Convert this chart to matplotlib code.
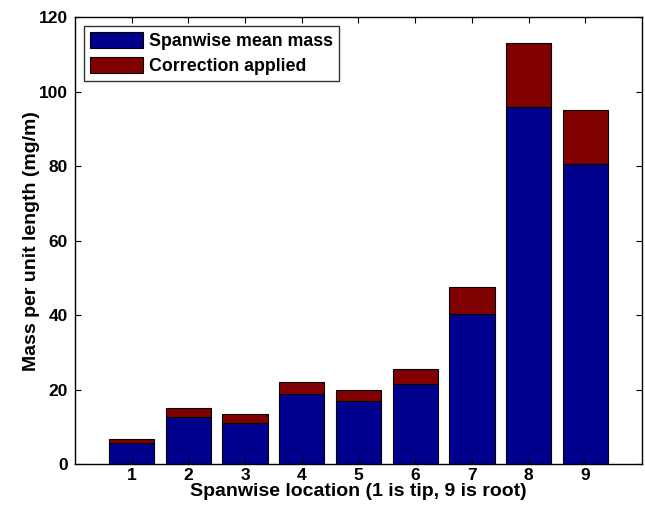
import matplotlib
matplotlib.use("Agg")
import matplotlib.pyplot as plt
import numpy as np

plt.rcParams['font.family'] = ['Liberation Sans', 'DejaVu Sans']
plt.rcParams['font.weight'] = 'bold'

locations = [1, 2, 3, 4, 5, 6, 7, 8, 9]
mean_mass = [5.6, 12.6, 11.1, 18.8, 17.0, 21.5, 40.3, 95.9, 80.6]
total_mass = [6.7, 15.1, 13.3, 22.1, 20.0, 25.6, 47.6, 113.2, 95.1]
correction = [t - m for t, m in zip(total_mass, mean_mass)]

fig = plt.figure(figsize=(6.45, 5.07), dpi=100)
ax = fig.add_axes([0.1163, 0.0848, 0.8790, 0.8811])

ax.bar(locations, mean_mass, width=0.8, color='#00008F', edgecolor='black',
       linewidth=0.8, label='Spanwise mean mass')
ax.bar(locations, correction, width=0.8, bottom=mean_mass, color='#800000',
       edgecolor='black', linewidth=0.8, label='Correction applied')

ax.set_xlim(0, 10)
ax.set_ylim(0, 120)
ax.set_xticks(locations)
ax.set_yticks(np.arange(0, 121, 20))
ax.tick_params(direction='in', top=True, right=True, length=4, labelsize=12.5, width=0.8)
ax.tick_params(axis='x', pad=3)
ax.tick_params(axis='y', pad=5)
for lab in ax.get_xticklabels() + ax.get_yticklabels():
    lab.set_fontweight('bold')
for s in ax.spines.values():
    s.set_linewidth(1.0)

ax.set_xlabel('Spanwise location (1 is tip, 9 is root)', fontsize=14, fontweight='bold', labelpad=0)
ax.set_ylabel('Mass per unit length (mg/m)', fontsize=14, fontweight='bold', labelpad=-1)

leg = ax.legend(loc='upper left', fontsize=12.8, frameon=True, fancybox=False,
                edgecolor='black', handlelength=3.0, handleheight=1.0,
                borderaxespad=0.5, borderpad=0.35, labelspacing=0.35, handletextpad=0.3)
leg.get_frame().set_linewidth(1.0)
for t in leg.get_texts():
    t.set_fontweight('bold')

fig.savefig('out.png', dpi=100)
